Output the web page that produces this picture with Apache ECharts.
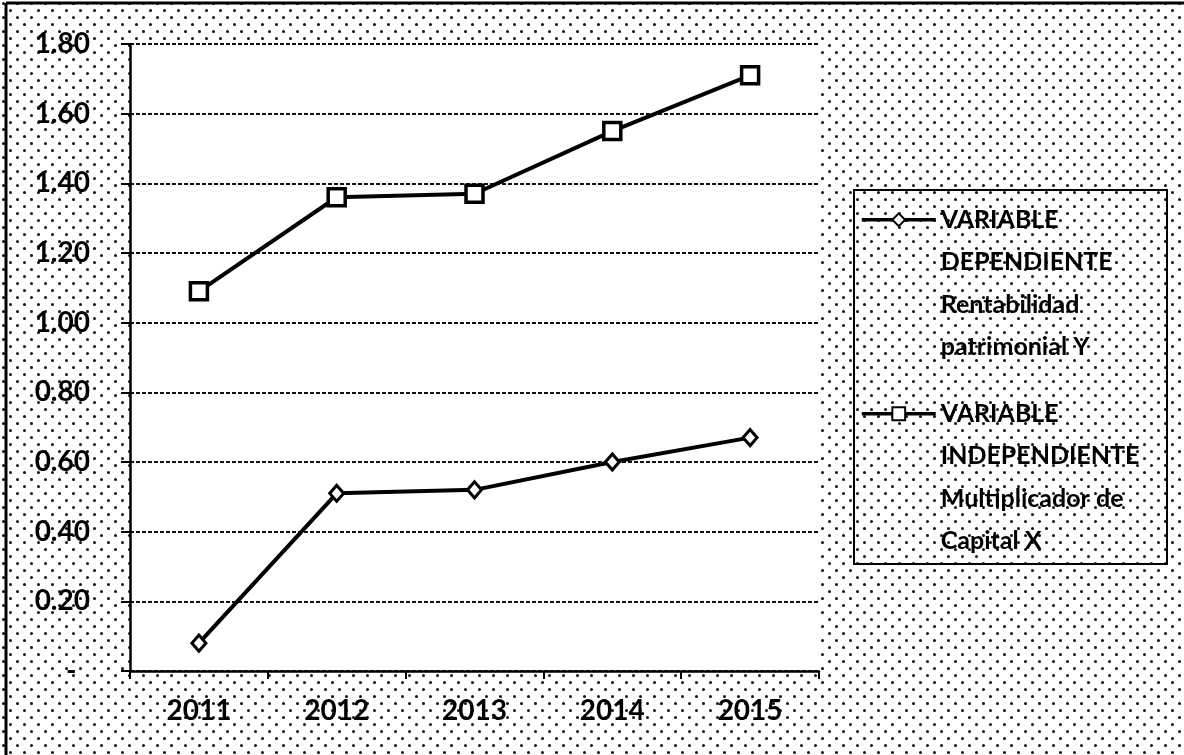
<!DOCTYPE html>
<html>
<head>
<meta charset="utf-8">
<script src="https://cdn.jsdelivr.net/npm/echarts@6/dist/echarts.min.js"></script>
<style>
html,body{margin:0;padding:0;background:#fff;}
#main{width:1184px;height:755px;}
</style>
</head>
<body>
<div id="main"></div>
<script>
// datos
var years=['2011','2012','2013','2014','2015'];
var rentabilidadY=[0.08,0.51,0.52,0.60,0.67];
var multiplicadorX=[1.09,1.36,1.37,1.55,1.71];
var serieNames=['VARIABLE\nDEPENDIENTE\nRentabilidad\npatrimonial Y','VARIABLE\nINDEPENDIENTE\nMultiplicador de\nCapital X'];

// fondo punteado
var pat=document.createElement('canvas');
pat.width=14;pat.height=14;
var ctx=pat.getContext('2d');
ctx.fillStyle='#111';
ctx.beginPath();ctx.arc(3.5,3.5,1.5,0,Math.PI*2);ctx.fill();
ctx.beginPath();ctx.arc(10.5,10.5,1.5,0,Math.PI*2);ctx.fill();

var myChart=echarts.init(document.getElementById('main'));
var txt={fontFamily:'Lato',fontWeight:'bold',fontSize:25,lineHeight:42.5,color:'#000'};
var legendBase={
	orient:'vertical',left:860,padding:0,itemGap:0,
	itemWidth:74,itemHeight:16,itemTextGap:2,
	textStyle:txt,
	lineStyle:{width:3.5,color:'#000'},
	formatter:function(n){return '\n\n\n'+n;}
};
option={
	backgroundColor:{image:pat,repeat:'repeat'},
	animation:false,
	grid:{left:130,right:365,top:44,bottom:84,show:true,backgroundColor:'#fff',borderWidth:0},
	legend:[
		Object.assign({},legendBase,{data:[serieNames[0]],top:71}),
		Object.assign({},legendBase,{data:[serieNames[1]],top:265})
	],
	xAxis:{
		type:'category',data:years,boundaryGap:true,
		axisLine:{lineStyle:{color:'#000',width:2.5}},
		axisTick:{show:true,length:8,lineStyle:{color:'#000',width:2}},
		axisLabel:{margin:26,fontFamily:'Lato',fontWeight:'bold',fontSize:28,color:'#000'}
	},
	yAxis:{
		type:'value',min:0,max:1.8,interval:0.2,
		axisLine:{show:true,lineStyle:{color:'#000',width:2.5}},
		axisTick:{show:true,length:9,lineStyle:{color:'#000',width:2}},
		axisLabel:{margin:40,fontFamily:'Lato',fontWeight:'bold',fontSize:28,color:'#000',
			formatter:function(v){return v===0?'-  ':v.toFixed(2);}},
		splitLine:{lineStyle:{color:'#111',width:1.8,type:[4,2]}}
	},
	series:[
		{
			name:serieNames[0],type:'line',data:rentabilidadY,
			symbol:'diamond',symbolSize:[14,16],
			lineStyle:{color:'#000',width:4},
			itemStyle:{color:'#fff',borderColor:'#000',borderWidth:3}
		},
		{
			name:serieNames[1],type:'line',data:multiplicadorX,
			symbol:'rect',symbolSize:17,
			lineStyle:{color:'#000',width:4},
			itemStyle:{color:'#fff',borderColor:'#000',borderWidth:3.5}
		}
	],
	graphic:[
		{type:'line',shape:{x1:6,y1:3,x2:6,y2:755},style:{stroke:'#000',lineWidth:3}},
		{type:'line',shape:{x1:6,y1:3,x2:1184,y2:3},style:{stroke:'#000',lineWidth:3}},
		{type:'rect',shape:{x:854,y:190,width:313,height:374},style:{fill:null,stroke:'#000',lineWidth:2}}
	]
};
myChart.setOption(option);
</script>
</body>
</html>
